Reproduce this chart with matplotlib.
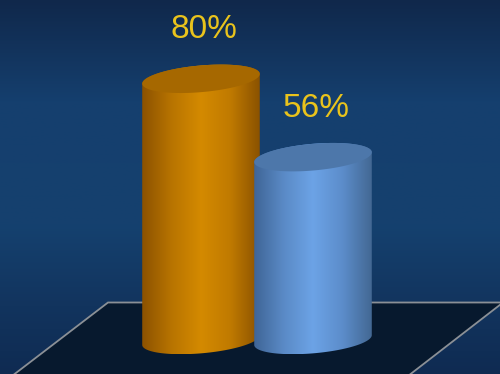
import numpy as np
import matplotlib.pyplot as plt
from matplotlib.colors import LinearSegmentedColormap
from matplotlib.patches import Polygon

# Values shown on the two cylinders
labels = ['80%', '56%']
values = [80, 56]
centers = [201, 313]
body_colors = [['#8c5200', '#b87400', '#d48a00', '#c07a00', '#8a5200'],
               ['#3f6596', '#5a8ac6', '#6ca3e6', '#5c8dcb', '#436893']]
cap_colors = ['#a66800', '#4d77aa']
label_color = '#e9c31c'

PX = 3.265    # pixels per percent
BASE = 340    # pixel row of the cylinder bases

fig = plt.figure(figsize=(5, 3.74), dpi=100)
ax = fig.add_axes([0, 0, 1, 1])
ymin, ymax = -(374 - BASE) / PX, BASE / PX
ax.set_xlim(0, 500)
ax.set_ylim(ymin, ymax)
ax.axis('off')

# background: vertical navy gradient
bg = LinearSegmentedColormap.from_list('bg', [(0, '#10284b'), (0.27, '#153f6e'),
                                              (0.6, '#15416f'), (0.82, '#12345e'),
                                              (1, '#0f2b52')])
ax.imshow(np.linspace(0, 1, 256)[:, None], cmap=bg, aspect='auto',
          extent=[0, 500, ymin, ymax], origin='upper', zorder=0)


def pix(y):
    return (BASE - y) / PX


# floor plane
floor = Polygon([(108, pix(302.5)), (503, pix(302.5)), (408, pix(376)), (12, pix(376))],
                closed=True, facecolor='#07192e', edgecolor='#8b9096', lw=1.3, zorder=1)
ax.add_patch(floor)


def cylinder(cx, value, colors, cap, z):
    t = np.linspace(0, 2 * np.pi, 720, endpoint=False)
    a, b, th = 59, 13.3, np.radians(-5)
    dx = a * np.cos(t) * np.cos(th) - b * np.sin(t) * np.sin(th)
    dy = a * np.cos(t) * np.sin(th) + b * np.sin(t) * np.cos(th)
    dv = -dy / PX
    i_r, i_l = np.argmax(dx), np.argmin(dx)
    idx = np.roll(np.arange(len(t)), -i_r)
    k = (i_l - i_r) % len(t)
    front = idx[:k + 1]
    back = np.append(idx[k:], idx[0])
    xs = np.concatenate([cx + dx[front], cx + dx[back]])
    ys = np.concatenate([dv[front], value + dv[back]])
    body = Polygon(np.column_stack([xs, ys]), closed=True, facecolor='none',
                   edgecolor='none', zorder=z)
    ax.add_patch(body)
    cmap = LinearSegmentedColormap.from_list('c', colors)
    im = ax.imshow(np.linspace(0, 1, 256)[None, :], cmap=cmap, aspect='auto',
                   extent=[cx + dx.min(), cx + dx.max(), ys.min(), ys.max()],
                   zorder=z)
    im.set_clip_path(body)
    ax.add_patch(Polygon(np.column_stack([cx + dx, value + dv]), closed=True,
                         facecolor=cap, edgecolor='none', zorder=z + 0.1))


for i, (cx, v) in enumerate(zip(centers, values)):
    cylinder(cx, v, body_colors[i], cap_colors[i], 2 + i)
    ax.text(cx + 3, v + 49 / PX, labels[i], ha='center', va='center',
            fontsize=24, color=label_color, family='Liberation Sans', zorder=5)

fig.savefig('out.png', dpi=100)
